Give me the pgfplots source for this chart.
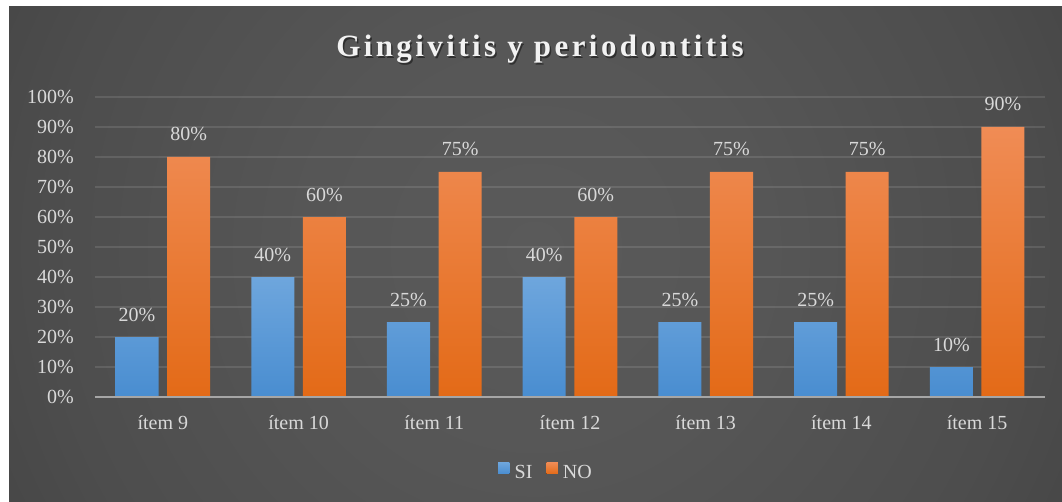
\documentclass[border=0pt]{standalone}
\usepackage{fontspec}
\setmainfont{Liberation Serif}
\newfontfamily\titlefont[LetterSpace=11]{Liberation Serif}
\usepackage{pgfplots}
\pgfplotsset{compat=1.18}
\definecolor{txt}{HTML}{D9D9D9}
\definecolor{titlec}{HTML}{F2F2F2}
\definecolor{bgA}{HTML}{5A5A5A}
\definecolor{bgB}{HTML}{565656}
\definecolor{bgC}{HTML}{4D4D4D}
\definecolor{bgD}{HTML}{3B3B3B}
\definecolor{bgE}{HTML}{2F2F2F}
\definecolor{bgF}{HTML}{282828}
\definecolor{blueT}{HTML}{6EA6DD}
\definecolor{blueB}{HTML}{498DD0}
\definecolor{orT}{HTML}{F08C55}
\definecolor{orM}{HTML}{F37E2C}
\definecolor{orB}{HTML}{E36A17}
\definecolor{axln}{HTML}{A6A6A6}
\pgfdeclareradialshading{bgshade}{\pgfpoint{0bp}{0bp}}{color(0bp)=(bgA); color(10bp)=(bgB); color(21bp)=(bgC); color(35bp)=(bgD); color(45bp)=(bgE); color(50bp)=(bgF)}
\newcommand{\lbl}{\fontsize{20}{24}\selectfont}
\begin{document}
\begin{tikzpicture}
\path[use as bounding box] (0pt,0pt) rectangle (1062pt,501pt);
\fill[white] (0pt,0pt) rectangle (1062pt,501pt);
\begin{scope}
\clip (9pt,0pt) rectangle (1062pt,494pt);
\shade[shading=bgshade] (-45pt,-329pt) rectangle (1115pt,831pt);
\end{scope}
\node[anchor=base, text=black, opacity=0.45, font=\titlefont\bfseries\fontsize{31}{36}\selectfont] at (541.5pt,442.5pt) {Gingivitis y periodontitis};
\node[anchor=base, text=titlec, font=\titlefont\bfseries\fontsize{31}{36}\selectfont] at (540pt,444pt) {Gingivitis y periodontitis};
\begin{axis}[
  at={(95pt,104pt)}, anchor=south west, scale only axis,
  width=950pt, height=300pt,
  xmin=-0.5, xmax=6.5, ymin=0, ymax=100,
  ytick={0,10,...,100}, xtick={0,...,6},
  xticklabels={ítem 9,ítem 10,ítem 11,ítem 12,ítem 13,ítem 14,ítem 15},
  yticklabel={\pgfmathprintnumber{\tick}\%},
  /pgf/number format/assume math mode=true,
  axis line style={draw=none}, major tick length=0pt,
  ymajorgrids, grid style={draw=white, draw opacity=0.11, line width=1.3pt},
  tick label style={font=\lbl, text=txt},
  yticklabel style={anchor=east, inner sep=0pt, xshift=-21pt},
  xticklabel style={anchor=base, inner sep=0pt, yshift=-32pt},
  legend style={at={(0.4737,-0.248)}, anchor=center, draw=none, fill=none,
    legend columns=-1, font=\lbl, text=txt, inner sep=0pt,
    nodes={inner sep=0pt},
    /tikz/every odd column/.append style={column sep=5pt},
    /tikz/every even column/.append style={column sep=14pt}},
  legend image code/.code={\fill[#1] (0pt,-1pt) rectangle (11.5pt,10.5pt);},
  nodes near coords={\pgfmathprintnumber{\pgfplotspointmeta}\%},
  nodes near coords style={anchor=base, inner sep=0pt, yshift=16pt, text=txt, font=\lbl},
]
\addplot[ybar, bar width=0.317, bar shift=-0.19, draw=none, top color=blueT, bottom color=blueB,
  every node near coord/.append style={xshift=-25.8pt}]
  coordinates {(0,20) (1,40) (2,25) (3,40) (4,25) (5,25) (6,10)};
\addlegendentry{SI}
\addplot[ybar, bar width=0.317, bar shift=0.19, draw=none, top color=orT, middle color=orM, bottom color=orB,
  every node near coord/.append style={xshift=25.8pt}]
  coordinates {(0,80) (1,60) (2,75) (3,60) (4,75) (5,75) (6,90)};
\addlegendentry{NO}
\draw[axln, line width=1.6pt] (axis cs:-0.5,0) -- (axis cs:6.5,0);
\end{axis}
\end{tikzpicture}
\end{document}
